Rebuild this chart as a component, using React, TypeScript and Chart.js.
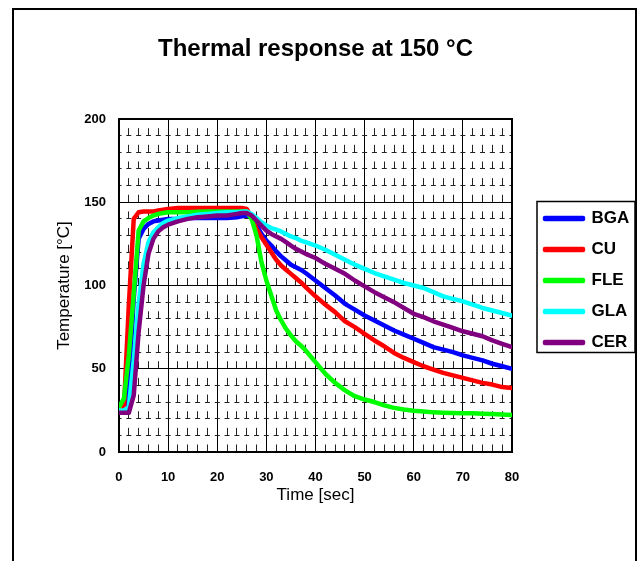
import React, { useEffect, useRef } from 'react';
import { Chart, registerables } from 'chart.js';

Chart.register(...registerables);

const FONT = "'Liberation Sans', Arial, sans-serif";
Chart.defaults.font.family = FONT;

const TITLE = 'Thermal response at 150 °C';
const X_TITLE = 'Time [sec]';
const Y_TITLE = 'Temperature [°C]';

const SERIES = ['BGA', 'CU', 'FLE', 'GLA', 'CER'];
const COLORS = ['#0000FF', '#FF0000', '#00FF00', '#00FFFF', '#800080'];

const TIME = [0, 1, 2, 3, 4, 5, 6, 7, 8, 9, 10, 12, 14, 16, 18, 20, 22, 24, 25, 26, 27, 28, 29, 30, 31, 32, 33, 34, 35, 36, 37, 38, 40, 42, 44, 46, 48, 50, 52, 54, 56, 58, 60, 62, 64, 66, 68, 70, 72, 74, 76, 78, 80];

const BGA = [23.5, 23.5, 40, 92, 128, 134, 137, 138.5, 139, 139.5, 140,
  140, 140.5, 140.5, 140.5, 140.5, 140.5, 141,
  141.5, 142, 141, 136, 131, 127, 124, 120.5, 117.5, 115, 112.5, 111, 109.5, 107.5,
  103, 98.5, 94, 89, 85.5, 82, 79, 76, 73, 70.5, 68, 65.5, 63, 61.5, 60, 58, 56.5, 55, 53, 51.5, 50];

const CU = [25, 26, 88, 140, 144, 144.5, 144.5, 144.5, 145, 145.5, 146,
  146.5, 146.5, 146.5, 146.5, 146.5, 146.5, 146.5,
  146.5, 146, 141, 134, 129, 124.5, 120, 115.5, 112, 109.5, 107, 104.5, 102, 99,
  93.5, 88.5, 84, 78.5, 75, 71, 67, 63.5, 59.5, 56.5, 54, 51.5, 49.5, 47.5, 46, 44.5, 43, 41.5, 40.5, 39, 38.5];

const FLE = [27, 32, 58, 95, 133, 138.5, 140.5, 142, 143, 143.5, 144,
  144, 144, 144.3, 144.5, 144.5, 144.5, 144.5,
  144.5, 144.5, 140, 130, 114, 103, 94, 85, 79, 74, 70, 66.5, 64, 61,
  54, 47, 41.5, 37, 33.5, 31.5, 30, 28, 26.5, 25.5, 24.8, 24.3, 23.8, 23.6, 23.4, 23.3, 23.2, 23, 22.8, 22.5, 22.2];

const GLA = [25, 25, 27, 55, 89, 113, 126, 132, 135, 137.5, 139,
  140.5, 141.5, 142.5, 143, 143.5, 144, 144,
  144.3, 144.5, 143, 140.5, 138, 136, 134.5, 133.5, 132.5, 131, 129.5, 128.5, 127, 126,
  124, 121.5, 118.5, 115.5, 112.5, 110, 107.5, 105.5, 103.5, 101.5, 100, 98.5, 96, 93.5, 92, 90.5, 88.5, 86.5, 85, 83.5, 82];

const CER = [23.5, 23.5, 23.5, 34, 72, 100, 119, 128, 132.5, 135, 136.5,
  138.5, 140, 141, 141.5, 142, 142, 143,
  143.5, 143.5, 142, 139, 136, 133, 131, 129.5, 128, 126, 124, 122, 120.5, 119,
  116.5, 113, 110, 107, 103, 99.5, 96, 93, 90, 86.5, 83, 81, 78.5, 76.5, 74.5, 72.5, 71, 69.5, 67, 65, 63];

const VALUES = [BGA, CU, FLE, GLA, CER];

const X_MIN = 0, X_MAX = 80, X_MINOR = 2, X_MAJOR = 10;
const Y_MIN = 0, Y_MAX = 200, Y_MINOR = 10, Y_MAJOR = 50;

const CANVAS_W = 643;
const CANVAS_H = 561;
const PLOT_RIGHT = 512;
const LEGEND_GAP = 19;
const LEGEND_PAD = 14;

const decorPlugin = {
  id: 'decor',
  afterLayout(chart: any) {
    const lg = chart.legend;
    if (!lg) return;
    const target = chart.chartArea.right + LEGEND_GAP;
    const dx = target - lg.left;
    lg.left += dx;
    lg.right += dx;
  },
  beforeDraw(chart: any) {
    const ctx = chart.ctx;
    ctx.save();
    ctx.fillStyle = '#ffffff';
    ctx.fillRect(0, 0, chart.width, chart.height);
    ctx.strokeStyle = '#000';
    ctx.lineWidth = 2;
    ctx.strokeRect(13, 9, 623, 600);
    ctx.restore();
  },
  beforeDatasetsDraw(chart: any) {
    const { ctx, chartArea } = chart;
    ctx.save();
    ctx.strokeStyle = '#000';
    ctx.lineWidth = 2;
    ctx.strokeRect(chartArea.left, chartArea.top, chartArea.right - chartArea.left, chartArea.bottom - chartArea.top);
    ctx.restore();
  },
  afterDraw(chart: any) {
    const lg = chart.legend;
    if (!lg || !lg.legendHitBoxes || !lg.legendHitBoxes.length) return;
    const hbs = lg.legendHitBoxes;
    const first = hbs[0];
    const last = hbs[hbs.length - 1];
    const ctx = chart.ctx;
    ctx.save();
    ctx.strokeStyle = '#000';
    ctx.lineWidth = 1.5;
    const left = first.left - 8;
    const top = first.top - 8.5;
    const right = first.left + 90;
    const bottom = last.top + last.height + 1.5;
    ctx.strokeRect(left, top, right - left, bottom - top);
    ctx.restore();
  },
};

export default function App() {
  const ref = useRef<HTMLCanvasElement>(null);

  useEffect(() => {
    if (!ref.current) return;
    const datasets = SERIES.map((name, i) => ({
      label: name,
      data: TIME.map((t, j) => ({ x: t, y: VALUES[i][j] })),
      borderColor: COLORS[i],
      backgroundColor: COLORS[i],
      borderWidth: 4.5,
      pointRadius: 0,
      pointHoverRadius: 0,
      tension: 0,
      fill: false,
      borderJoinStyle: 'round' as const,
      borderCapStyle: 'round' as const,
      order: SERIES.length - i,
    }));

    const chart = new Chart(ref.current, {
      type: 'line',
      data: { datasets },
      plugins: [decorPlugin],
      options: {
        responsive: false,
        maintainAspectRatio: false,
        animation: false,
        devicePixelRatio: 1,
        layout: { padding: { left: 53.9, right: 0, top: 0, bottom: 0 } },
        events: [],
        plugins: {
          tooltip: { enabled: false },
          title: {
            display: true,
            text: TITLE,
            fullSize: false,
            color: '#000',
            font: { family: FONT, size: 24, weight: 'bold' },
            padding: { top: 34.6, bottom: 55.6 },
          },
          legend: {
            display: true,
            position: 'right',
            align: 'center',
            labels: {
              boxWidth: 38,
              boxHeight: 1,
              padding: LEGEND_PAD,
              color: '#000',
              font: { family: FONT, size: 17, weight: 'bold' },
              sort: (a: any, b: any) => a.datasetIndex - b.datasetIndex,
            },
          },
        },
        scales: {
          x: {
            type: 'linear',
            min: X_MIN,
            max: X_MAX,
            ticks: {
              stepSize: X_MINOR,
              autoSkip: false,
              maxRotation: 0,
              padding: 17.2,
              color: '#000',
              font: { family: FONT, size: 13, weight: 'bold' },
              callback: (v: any) => (Number(v) % X_MAJOR === 0 ? String(v) : ''),
            },
            grid: {
              color: (ctx: any) => (ctx.tick && ctx.tick.value % X_MAJOR !== 0 ? '#222' : '#000'),
              lineWidth: 1,
              drawTicks: false,
            },
            border: {
              display: false,
              dash: (ctx: any) => (ctx.tick && ctx.tick.value % X_MAJOR !== 0 ? [7.5, 9.15] : []),
              dashOffset: (ctx: any) => (ctx.tick && ctx.tick.value % X_MAJOR !== 0 ? 7.5 : 0),
            },
            title: {
              display: true,
              text: X_TITLE,
              color: '#000',
              font: { family: FONT, size: 17, weight: 'normal' },
              padding: { top: -17.2, bottom: 55.8 },
            },
          },
          y: {
            type: 'linear',
            min: Y_MIN,
            max: Y_MAX,
            ticks: {
              stepSize: Y_MINOR,
              autoSkip: false,
              padding: 13,
              color: '#000',
              font: { family: FONT, size: 13, weight: 'bold' },
              callback: (v: any) => (Number(v) % Y_MAJOR === 0 ? String(v) : ''),
            },
            grid: {
              color: (ctx: any) => (ctx.tick && ctx.tick.value % Y_MAJOR !== 0 ? '#222' : '#000'),
              lineWidth: 1,
              drawTicks: false,
            },
            border: {
              display: false,
              dash: (ctx: any) => (ctx.tick && ctx.tick.value % Y_MAJOR !== 0 ? [5, 4.825] : []),
              dashOffset: (ctx: any) => (ctx.tick && ctx.tick.value % Y_MAJOR !== 0 ? 2.5 : 0),
            },
            title: {
              display: true,
              text: Y_TITLE,
              color: '#000',
              font: { family: FONT, size: 17, weight: 'normal' },
              padding: { top: 0, bottom: -3 },
            },
          },
          yR: {
            type: 'linear',
            position: 'right',
            display: true,
            grid: { display: false, drawTicks: false },
            border: { display: false },
            ticks: { display: false },
            afterFit: (s: any) => {
              const lw = s.chart.legend ? s.chart.legend.width : 0;
              s.width = Math.max(0, CANVAS_W - PLOT_RIGHT - lw);
            },
          },
        },
      } as any,
    });
    return () => chart.destroy();
  }, []);

  return (
    <div style={{ position: 'absolute', left: 0, top: 0, width: CANVAS_W, height: CANVAS_H, background: '#fff' }}>
      <canvas ref={ref} width={CANVAS_W} height={CANVAS_H} style={{ display: 'block', width: CANVAS_W, height: CANVAS_H }} />
    </div>
  );
}
